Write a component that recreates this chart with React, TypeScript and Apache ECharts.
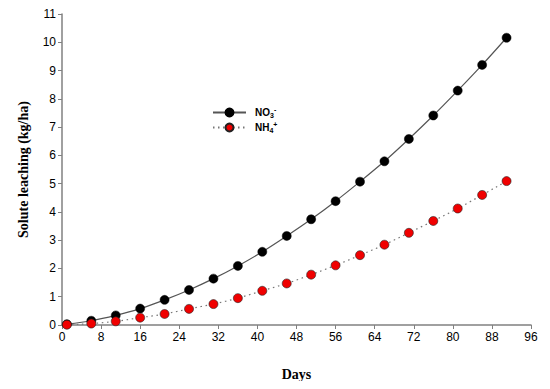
import React, { useEffect, useRef } from "react";
import * as echarts from "echarts";

const days = [1, 6, 11, 16, 21, 26, 31, 36, 41, 46, 51, 56, 61, 66, 71, 76, 81, 86, 91];
const no3 = [0.03, 0.15, 0.34, 0.58, 0.89, 1.24, 1.64, 2.09, 2.59, 3.15, 3.74, 4.38, 5.07, 5.79, 6.58, 7.41, 8.29, 9.2, 10.16];
const nh4 = [0.01, 0.05, 0.13, 0.26, 0.39, 0.57, 0.74, 0.95, 1.21, 1.47, 1.78, 2.11, 2.47, 2.84, 3.26, 3.68, 4.12, 4.6, 5.09];
const xTicks = { min: 0, max: 96, interval: 8 };
const yTicks = { min: 0, max: 11, interval: 1 };

export default function App() {
  const ref = useRef<HTMLDivElement>(null);
  useEffect(() => {
    if (!ref.current) return;
    const chart = echarts.init(ref.current, null, { renderer: "svg" });
    const axisCommon = {
      axisLine: { show: true, lineStyle: { color: "#808080", width: 1.5 } },
      axisTick: { show: true, length: 4, lineStyle: { color: "#808080" } },
      splitLine: { show: false },
      axisLabel: { color: "#000", fontFamily: "Liberation Sans", fontSize: 12 },
      nameTextStyle: { color: "#000", fontFamily: "Liberation Serif", fontWeight: "bold", fontSize: 14 },
    };
    chart.setOption({
      animation: false,
      backgroundColor: "#fff",
      grid: { left: 62, right: 19, top: 14, bottom: 64 },
      legend: {
        left: 207,
        top: 101,
        orient: "vertical",
        itemWidth: 33,
        itemHeight: 10,
        itemGap: 2,
        data: ["NO3", "NH4"],
        formatter: (name: string) =>
          name === "NO3" ? "{b|NO}{s|3}{p|-}" : "{b|NH}{s|4}{p|+}",
        textStyle: {
          color: "#000",
          rich: {
            b: { fontFamily: "Liberation Sans", fontSize: 10, fontWeight: "bold", lineHeight: 14, padding: [0, 0, 0, 4] },
            s: { fontFamily: "Liberation Sans", fontSize: 7, fontWeight: "bold", lineHeight: 14, padding: [5, 0, 0, 0] },
            p: { fontFamily: "Liberation Sans", fontSize: 7, fontWeight: "bold", lineHeight: 14, padding: [0, 0, 6, 0] },
          },
        },
      },
      xAxis: {
        type: "value",
        ...axisCommon,
        min: xTicks.min,
        max: xTicks.max,
        interval: xTicks.interval,
        name: "Days",
        nameLocation: "middle",
        nameGap: 42,
        axisLabel: { ...axisCommon.axisLabel, margin: 6 },
      },
      yAxis: {
        type: "value",
        ...axisCommon,
        min: yTicks.min,
        max: yTicks.max,
        interval: yTicks.interval,
        name: "Solute leaching (kg/ha)",
        nameLocation: "middle",
        nameGap: 32,
        axisLabel: { ...axisCommon.axisLabel, margin: 6 },
      },
      series: [
        {
          name: "NO3",
          type: "line",
          data: days.map((d, i) => [d, no3[i]]),
          smooth: 0.3,
          symbol: "circle",
          symbolSize: 9,
          itemStyle: { color: "#000", borderColor: "#000", borderWidth: 0.5 },
          lineStyle: { color: "#555", width: 1.2, type: "solid" },
        },
        {
          name: "NH4",
          type: "line",
          data: days.map((d, i) => [d, nh4[i]]),
          smooth: 0.3,
          symbol: "circle",
          symbolSize: 9,
          itemStyle: { color: "#f00000", borderColor: "#222", borderWidth: 0.6 },
          lineStyle: { color: "#777", width: 1.2, type: [1.5, 3.5] },
        },
      ],
    });
    return () => chart.dispose();
  }, []);
  return <div ref={ref} style={{ width: 550, height: 389, margin: -8 }} />;
}
